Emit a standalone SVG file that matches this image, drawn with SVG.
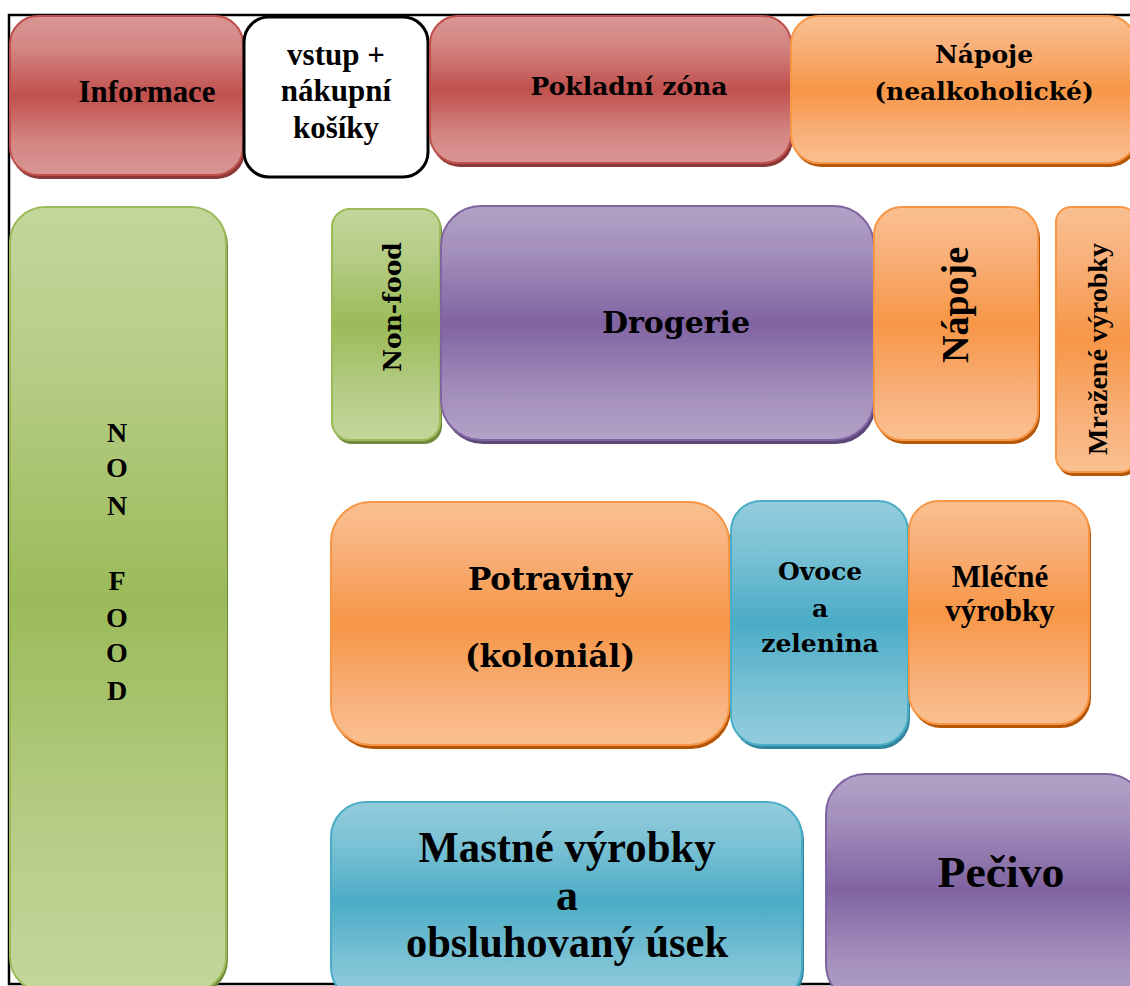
<svg xmlns="http://www.w3.org/2000/svg" width="1130" height="986" viewBox="0 0 1130 986">
<style>
.t{font-family:"Liberation Serif","Times New Roman",serif;font-weight:bold;fill:#000;text-anchor:middle}
.c{font-family:"DejaVu Serif","Liberation Serif",serif;font-weight:bold;fill:#000;text-anchor:middle}
.red{fill:url(#gRed);stroke:#C0504D;stroke-width:2}
.org{fill:url(#gOrg);stroke:#F79646;stroke-width:2}
.grn{fill:url(#gGrn);stroke:#9BBB59;stroke-width:2}
.pur{fill:url(#gPur);stroke:#8064A2;stroke-width:2}
.blu{fill:url(#gBlu);stroke:#4BACC6;stroke-width:2}
.sred{fill:#8C3836}.sorg{fill:#B65708}.sgrn{fill:#71893F}.spur{fill:#5C4776}.sblu{fill:#31859C}
</style>
<defs>
<linearGradient id="gRed" x1="0" y1="0" x2="0" y2="1">
<stop offset="0" stop-color="#D99694"/><stop offset="0.2" stop-color="#D48683"/><stop offset="0.5" stop-color="#C0504D"/><stop offset="0.8" stop-color="#D48683"/><stop offset="1" stop-color="#D99694"/>
</linearGradient>
<linearGradient id="gOrg" x1="0" y1="0" x2="0" y2="1">
<stop offset="0" stop-color="#FAC090"/><stop offset="0.2" stop-color="#F8B07A"/><stop offset="0.5" stop-color="#F79646"/><stop offset="0.8" stop-color="#F8B07A"/><stop offset="1" stop-color="#FAC090"/>
</linearGradient>
<linearGradient id="gGrn" x1="0" y1="0" x2="0" y2="1">
<stop offset="0" stop-color="#C3D69B"/><stop offset="0.2" stop-color="#B6CD87"/><stop offset="0.5" stop-color="#9BBB59"/><stop offset="0.8" stop-color="#B6CD87"/><stop offset="1" stop-color="#C3D69B"/>
</linearGradient>
<linearGradient id="gPur" x1="0" y1="0" x2="0" y2="1">
<stop offset="0" stop-color="#B3A2C7"/><stop offset="0.2" stop-color="#A38FBB"/><stop offset="0.5" stop-color="#8064A2"/><stop offset="0.8" stop-color="#A38FBB"/><stop offset="1" stop-color="#B3A2C7"/>
</linearGradient>
<linearGradient id="gBlu" x1="0" y1="0" x2="0" y2="1">
<stop offset="0" stop-color="#93CDDD"/><stop offset="0.2" stop-color="#7CC2D5"/><stop offset="0.5" stop-color="#4BACC6"/><stop offset="0.8" stop-color="#7CC2D5"/><stop offset="1" stop-color="#93CDDD"/>
</linearGradient>
</defs>
<rect x="0" y="0" width="1130" height="986" fill="#fff"/>
<rect id="frame" x="9" y="15" width="1140" height="969" fill="none" stroke="#000" stroke-width="2.5"/>
<g id="connectors"></g>

<g id="informace">
<rect class="sred" x="12" y="19" width="233" height="160" rx="28"/>
<rect class="red" x="10" y="16" width="233" height="159" rx="28"/>
<text class="t" x="147" y="102" font-size="31" textLength="137" lengthAdjust="spacingAndGlyphs">Informace</text>
</g>
<g id="vstup">
<rect x="244" y="17" width="184" height="160" rx="25" fill="#fff" stroke="#000" stroke-width="3"/>
<text class="t" x="336" y="65" font-size="31">vstup +</text>
<text class="t" x="336" y="101" font-size="31">nákupní</text>
<text class="t" x="336" y="138" font-size="31">košíky</text>
</g>
<g id="pokladni">
<rect class="sred" x="432" y="19" width="361" height="148" rx="28"/>
<rect class="red" x="430" y="16" width="361" height="147" rx="28"/>
<text class="c" x="629" y="95" font-size="25">Pokladní zóna</text>
</g>
<g id="napoje-nealko">
<rect class="sorg" x="793" y="19" width="345" height="148" rx="28"/>
<rect class="org" x="791" y="16" width="345" height="147" rx="28"/>
<text class="c" x="984" y="63" font-size="25">Nápoje</text>
<text class="c" x="984" y="100" font-size="25">(nealkoholické)</text>
</g>

<g id="nonfood-big">
<rect class="sgrn" x="12" y="210" width="216" height="785" rx="35"/>
<rect class="grn" x="10" y="207" width="216" height="785" rx="35"/>
<text class="t" x="117" y="442" font-size="28">N</text>
<text class="t" x="117" y="477" font-size="28">O</text>
<text class="t" x="117" y="515" font-size="28">N</text>
<text class="t" x="117" y="590" font-size="28">F</text>
<text class="t" x="117" y="627" font-size="28">O</text>
<text class="t" x="117" y="662" font-size="28">O</text>
<text class="t" x="117" y="700" font-size="28">D</text>
</g>
<g id="nonfood">
<rect class="sgrn" x="334" y="212" width="108" height="232" rx="18"/>
<rect class="grn" x="332" y="209" width="108" height="231" rx="18"/>
<text class="c" transform="translate(401,307) rotate(-90)" x="0" y="0" font-size="25">Non-food</text>
</g>
<g id="drogerie">
<rect class="spur" x="443" y="209" width="433" height="235" rx="40"/>
<rect class="pur" x="441" y="206" width="433" height="234" rx="40"/>
<text class="c" x="676" y="333" font-size="30">Drogerie</text>
</g>
<g id="napoje">
<rect class="sorg" x="876" y="210" width="164" height="234" rx="28"/>
<rect class="org" x="874" y="207" width="164" height="233" rx="28"/>
<text class="t" transform="translate(968,305) rotate(-90)" x="0" y="0" font-size="38">Nápoje</text>
</g>
<g id="mrazene">
<rect class="sorg" x="1058" y="210" width="80" height="266" rx="15"/>
<rect class="org" x="1056" y="207" width="80" height="265" rx="15"/>
<text class="t" transform="translate(1107,349) rotate(-90)" x="0" y="0" font-size="28">Mražené výrobky</text>
</g>

<g id="potraviny">
<rect class="sorg" x="333" y="505" width="398" height="244" rx="40"/>
<rect class="org" x="331" y="502" width="398" height="243" rx="40"/>
<text class="c" x="550" y="590" font-size="31">Potraviny</text>
<text class="c" x="550" y="667" font-size="31">(koloniál)</text>
</g>
<g id="ovoce">
<rect class="sblu" x="733" y="504" width="177" height="245" rx="30"/>
<rect class="blu" x="731" y="501" width="177" height="244" rx="30"/>
<text class="c" x="820" y="580" font-size="25">Ovoce</text>
<text class="c" x="820" y="617" font-size="25">a</text>
<text class="c" x="820" y="652" font-size="25">zelenina</text>
</g>
<g id="mlecne">
<rect class="sorg" x="911" y="504" width="180" height="224" rx="30"/>
<rect class="org" x="909" y="501" width="180" height="223" rx="30"/>
<text class="t" x="1000" y="587" font-size="31">Mléčné</text>
<text class="t" x="1000" y="621" font-size="31">výrobky</text>
</g>

<g id="mastne">
<rect class="sblu" x="333" y="805" width="471" height="200" rx="35"/>
<rect class="blu" x="331" y="802" width="471" height="200" rx="35"/>
<text class="t" x="567" y="862" font-size="44" textLength="297" lengthAdjust="spacingAndGlyphs">Mastné výrobky</text>
<text class="t" x="567" y="910" font-size="44">a</text>
<text class="t" x="567" y="957" font-size="44" textLength="322" lengthAdjust="spacingAndGlyphs">obsluhovaný úsek</text>
</g>
<g id="pecivo">
<rect class="spur" x="828" y="777" width="320" height="230" rx="40"/>
<rect class="pur" x="826" y="774" width="320" height="230" rx="40"/>
<text class="t" x="1001" y="887" font-size="44" textLength="127" lengthAdjust="spacingAndGlyphs">Pečivo</text>
</g>
</svg>
